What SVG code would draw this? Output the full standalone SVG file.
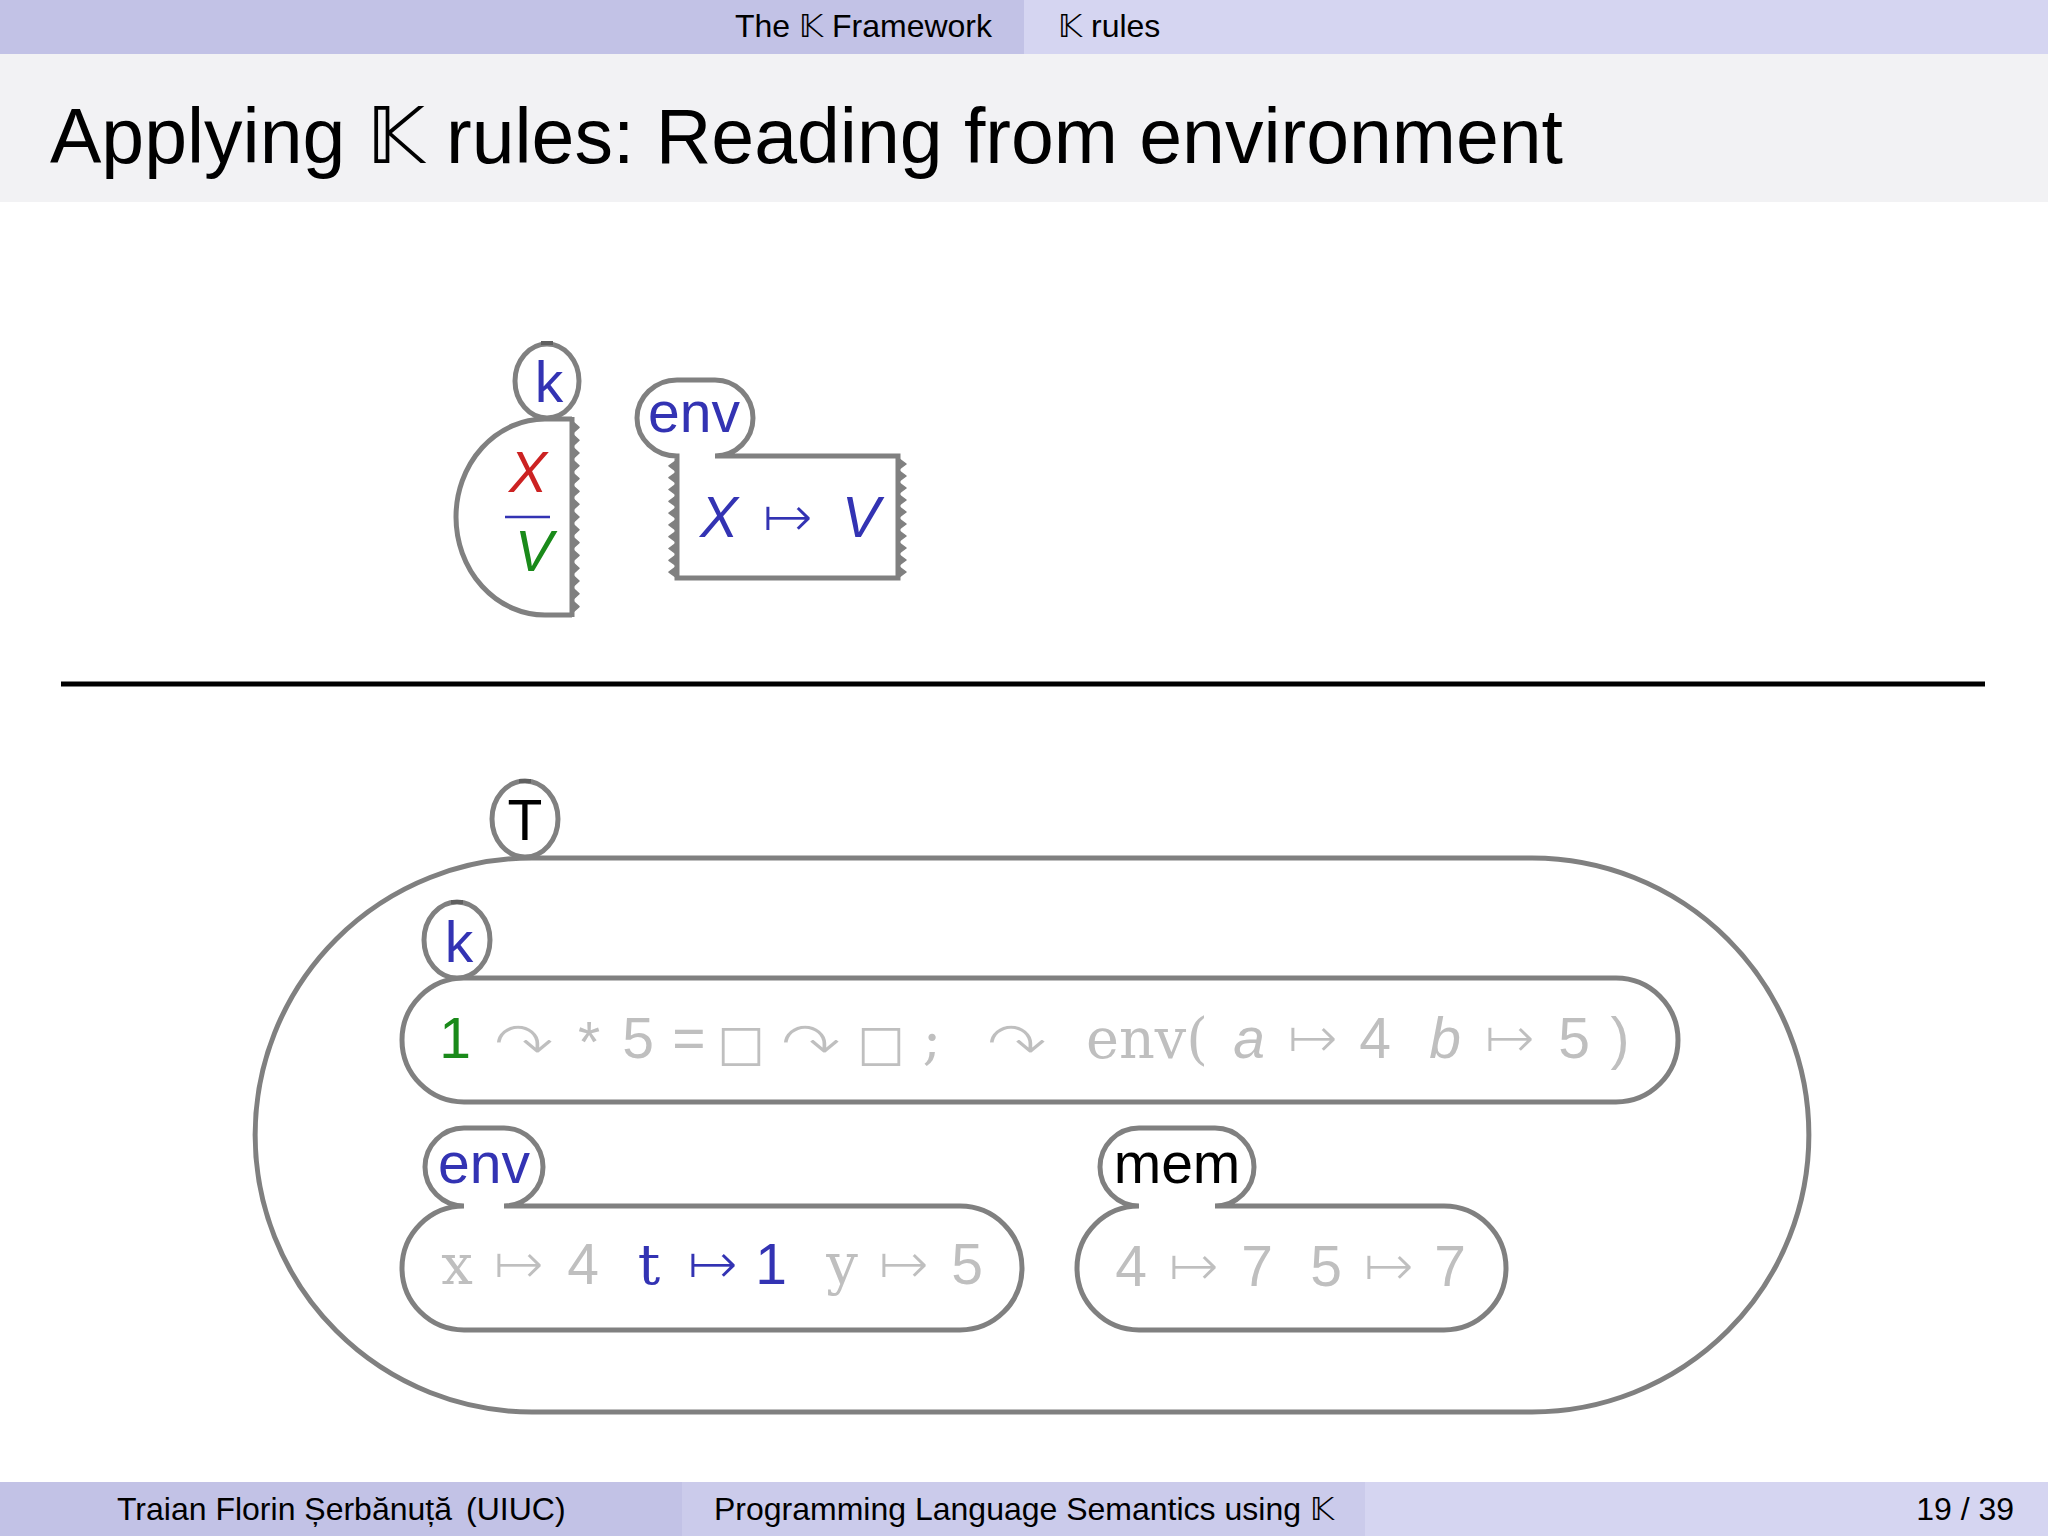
<svg xmlns="http://www.w3.org/2000/svg" width="2048" height="1536" viewBox="0 0 2048 1536">
<style>
.sans{font-family:"Liberation Sans","DejaVu Sans",sans-serif}
.sym{font-family:"DejaVu Sans",sans-serif;stroke:#fff;stroke-width:2}
.box{font-family:"DejaVu Sans",sans-serif}
.tt{font-family:"DejaVu Serif","Liberation Serif",serif}
.it{font-style:italic}
.mid{text-anchor:middle}
.blue{fill:#3333b3}
.gray{fill:#bfbfbf}
.red{fill:#cc2222}
.green{fill:#1a8a1a}
.black{fill:#000}
.cell{fill:#fff;stroke:#808080;stroke-width:5}
.open{fill:none;stroke:#808080;stroke-width:5}
.teeth{fill:#808080;stroke:#808080;stroke-width:1.5;stroke-linejoin:round}
.stub{stroke:#606060;stroke-width:4}
.f57{font-size:57px}
.f56{font-size:56px}
</style>

<g id="header">
  <rect x="0" y="0" width="1024" height="54" fill="#c2c2e6"/>
  <rect x="1024" y="0" width="1024" height="54" fill="#d5d5f1"/>
  <text class="sans" x="735" y="37" font-size="32" fill="#000">The 𝕂 Framework</text>
  <text class="sans" x="1058" y="37" font-size="32" fill="#000">𝕂 rules</text>
</g>

<g id="title">
  <rect x="0" y="54" width="2048" height="148" fill="#f2f2f4"/>
  <text class="sans" x="50" y="163" font-size="78" fill="#000" textLength="1513" lengthAdjust="spacingAndGlyphs">Applying 𝕂 rules: Reading from environment</text>
</g>

<g id="connectors"></g>

<g id="rule-k">
  <path class="open" d="M572 419 L545 419 A89 98 0 0 0 545 615 L572 615"/>
  <line x1="572" y1="417" x2="572" y2="617" stroke="#808080" stroke-width="5"/>
  <path class="teeth" d="M572 421 l7 6.4 l-7 6.4 l7 6.4 l-7 6.4 l7 6.4 l-7 6.4 l7 6.4 l-7 6.4 l7 6.4 l-7 6.4 l7 6.4 l-7 6.4 l7 6.4 l-7 6.4 l7 6.4 l-7 6.4 l7 6.4 l-7 6.4 l7 6.4 l-7 6.4 l7 6.4 l-7 6.4 l7 6.4 l-7 6.4 l7 6.4 l-7 6.4 l7 6.4 l-7 6.4 l7 6.4 l-7 6.4 Z"/>
  <ellipse class="cell" cx="547" cy="381" rx="32" ry="37"/>
  <line class="stub" x1="541" y1="343" x2="553" y2="343"/>
  <text class="sans mid blue f57" x="549" y="402">k</text>
  <text class="sans it mid red f57" x="528" y="492">X</text>
  <line x1="505" y1="517" x2="550" y2="517" stroke="#3333b3" stroke-width="2.5"/>
  <text class="sans it mid green f57" x="534" y="571">V</text>
</g>

<g id="rule-env">
  <path class="open" d="M715 456 L898 456 L898 578 L677 578 L677 456 A40 38 0 0 1 677 380 L715 380 A38 38 0 0 1 715 456"/>
  <path class="teeth" d="M677 460 l-8 5.9 l8 5.9 l-8 5.9 l8 5.9 l-8 5.9 l8 5.9 l-8 5.9 l8 5.9 l-8 5.9 l8 5.9 l-8 5.9 l8 5.9 l-8 5.9 l8 5.9 l-8 5.9 l8 5.9 l-8 5.9 l8 5.9 l-8 5.9 l8 5.9 Z"/>
  <path class="teeth" d="M898 458 l8 6 l-8 6 l8 6 l-8 6 l8 6 l-8 6 l8 6 l-8 6 l8 6 l-8 6 l8 6 l-8 6 l8 6 l-8 6 l8 6 l-8 6 l8 6 l-8 6 l8 6 l-8 6 Z"/>
  <text class="sans mid blue f57" x="694" y="432">env</text>
  <text class="sans it mid blue f57" x="719" y="537">X</text>
  <text class="sym mid blue" x="788" y="537" font-size="60" textLength="52" lengthAdjust="spacingAndGlyphs">↦</text>
  <text class="sans it mid blue f57" x="861" y="537">V</text>
</g>

<g id="separator">
  <line x1="61" y1="684" x2="1985" y2="684" stroke="#000" stroke-width="5"/>
</g>

<g id="cell-T">
  <path class="cell" d="M532 858 L1532 858 A277 277 0 0 1 1532 1412 L532 1412 A277 277 0 0 1 532 858 Z"/>
  <ellipse class="cell" cx="525" cy="819" rx="33" ry="38"/>
  <line class="stub" x1="519" y1="781" x2="531" y2="781"/>
  <text class="sans mid black f57" x="525" y="840">T</text>
</g>

<g id="cell-k">
  <rect class="cell" x="402" y="978" width="1276" height="124" rx="62"/>
  <ellipse class="cell" cx="457" cy="940" rx="33" ry="38"/>
  <line class="stub" x1="451" y1="902" x2="463" y2="902"/>
  <text class="sans mid blue f57" x="459" y="962">k</text>
  <text class="sans mid green f57" x="455" y="1058">1</text>
  <text class="sym mid gray" x="524" y="1066" font-size="62" textLength="62" lengthAdjust="spacingAndGlyphs">↷</text>
  <text class="sans mid gray f57" x="589" y="1062">*</text>
  <text class="sans mid gray f57" x="638" y="1058">5</text>
  <text class="sans mid gray f57" x="689" y="1058">=</text>
  <text class="box mid gray" x="741" y="1060" font-size="50">□</text>
  <text class="sym mid gray" x="811" y="1066" font-size="62" textLength="62" lengthAdjust="spacingAndGlyphs">↷</text>
  <text class="box mid gray" x="881" y="1060" font-size="50">□</text>
  <text class="tt mid gray f56" x="932" y="1058">;</text>
  <text class="sym mid gray" x="1017" y="1066" font-size="62" textLength="62" lengthAdjust="spacingAndGlyphs">↷</text>
  <text class="tt gray f56" x="1086" y="1058" textLength="122" lengthAdjust="spacingAndGlyphs">env(</text>
  <text class="sans it mid gray f57" x="1249" y="1058">a</text>
  <text class="sym mid gray" x="1313" y="1058" font-size="60" textLength="52" lengthAdjust="spacingAndGlyphs">↦</text>
  <text class="sans mid gray f57" x="1375" y="1058">4</text>
  <text class="sans it mid gray f57" x="1445" y="1058">b</text>
  <text class="sym mid gray" x="1510" y="1058" font-size="60" textLength="52" lengthAdjust="spacingAndGlyphs">↦</text>
  <text class="sans mid gray f57" x="1574" y="1058">5</text>
  <text class="sans mid gray f57" x="1620" y="1058">)</text>
</g>

<g id="cell-env">
  <path class="cell" d="M504 1206 L960 1206 A62 62 0 0 1 960 1330 L464 1330 A62 62 0 0 1 464 1206 A39 39 0 0 1 464 1128 L504 1128 A39 39 0 0 1 504 1206 Z"/>
  <text class="sans mid blue f57" x="484" y="1183">env</text>
  <text class="tt mid gray f56" x="457" y="1284">x</text>
  <text class="sym mid gray" x="519" y="1284" font-size="60" textLength="52" lengthAdjust="spacingAndGlyphs">↦</text>
  <text class="sans mid gray f57" x="583" y="1284">4</text>
  <text class="tt mid blue f56" x="649" y="1284">t</text>
  <text class="sym mid blue" x="713" y="1284" font-size="60" textLength="52" lengthAdjust="spacingAndGlyphs">↦</text>
  <text class="sans mid blue f57" x="771" y="1284">1</text>
  <text class="tt mid gray f56" x="842" y="1284">y</text>
  <text class="sym mid gray" x="904" y="1284" font-size="60" textLength="52" lengthAdjust="spacingAndGlyphs">↦</text>
  <text class="sans mid gray f57" x="967" y="1284">5</text>
</g>

<g id="cell-mem">
  <path class="cell" d="M1215 1206 L1444 1206 A62 62 0 0 1 1444 1330 L1139 1330 A62 62 0 0 1 1139 1206 A39 39 0 0 1 1139 1128 L1215 1128 A39 39 0 0 1 1215 1206 Z"/>
  <text class="sans mid black f57" x="1177" y="1183">mem</text>
  <text class="sans mid gray f57" x="1131" y="1286">4</text>
  <text class="sym mid gray" x="1194" y="1286" font-size="60" textLength="52" lengthAdjust="spacingAndGlyphs">↦</text>
  <text class="sans mid gray f57" x="1257" y="1286">7</text>
  <text class="sans mid gray f57" x="1326" y="1286">5</text>
  <text class="sym mid gray" x="1389" y="1286" font-size="60" textLength="52" lengthAdjust="spacingAndGlyphs">↦</text>
  <text class="sans mid gray f57" x="1450" y="1286">7</text>
</g>

<g id="footer">
  <rect x="0" y="1482" width="682" height="54" fill="#c2c2e6"/>
  <rect x="682" y="1482" width="683" height="54" fill="#cbcbeb"/>
  <rect x="1365" y="1482" width="683" height="54" fill="#d5d5f1"/>
  <text class="sans" x="117" y="1520" font-size="32" fill="#000">Traian Florin Șerbănuță</text>
  <text class="sans" x="466" y="1520" font-size="32" fill="#000">(UIUC)</text>
  <text class="sans" x="714" y="1520" font-size="32" fill="#000">Programming Language Semantics using 𝕂</text>
  <text class="sans" x="2014" y="1520" font-size="32" fill="#000" text-anchor="end">19 / 39</text>
</g>
</svg>
